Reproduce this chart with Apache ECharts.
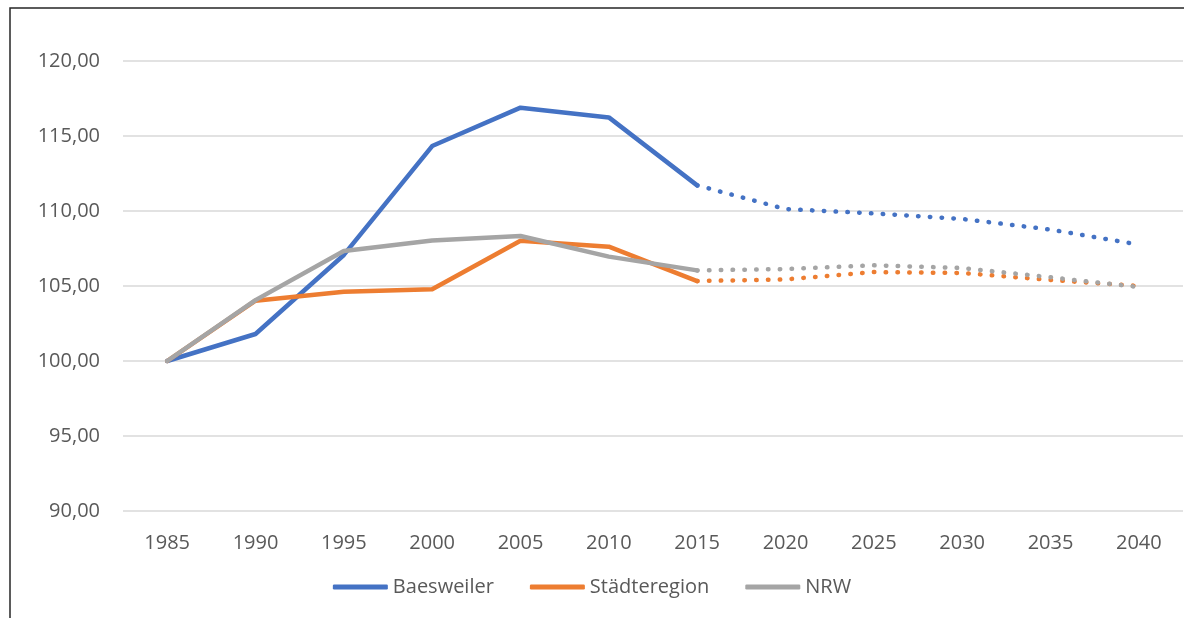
<!DOCTYPE html>
<html>
<head>
<meta charset="utf-8">
<script src="https://cdn.jsdelivr.net/npm/echarts@6/dist/echarts.min.js"></script>
<style>
  html, body { margin: 0; padding: 0; background: #fff; }
  #chart { width: 1184px; height: 618px; }
</style>
</head>
<body>
<div id="chart"></div>
<script>
const years = ['1985', '1990', '1995', '2000', '2005', '2010', '2015', '2020', '2025', '2030', '2035', '2040']
// Ist-Werte bis 2015, danach Prognose (gepunktet)
const baesweiler = [100.0, 101.8, 107.07, 114.33, 116.89, 116.24, 111.71, 110.13, 109.84, 109.47, 108.76, 107.76]
const staedteregion = [100.0, 104.02, 104.62, 104.78, 108.02, 107.62, 105.33, 105.44, 105.93, 105.87, 105.4, 105.0]
const nrw = [100.0, 104.06, 107.33, 108.04, 108.33, 106.96, 106.04, 106.13, 106.38, 106.2, 105.58, 104.93]
const seriesNames = ['Baesweiler', 'Städteregion', 'NRW']
const colors = ['#4472C4', '#ED7D31', '#A5A5A5']
const splitIndex = 6 // 2015

const font = '"Open Sans", sans-serif'

function part(values, solid) {
  return values.map((v, i) => (solid ? (i <= splitIndex ? v : null) : (i >= splitIndex ? v : null)))
}

const series = []
;[baesweiler, staedteregion, nrw].forEach((vals, k) => {
  series.push({
    name: seriesNames[k],
    type: 'line',
    data: part(vals, true),
    showSymbol: false,
    symbol: 'none',
    color: colors[k],
    lineStyle: { width: 4.5, color: colors[k], cap: 'round', join: 'round' },
    z: 3 + k
  })
  series.push({
    name: seriesNames[k] + ' Prognose',
    type: 'line',
    data: part(vals, false),
    showSymbol: false,
    symbol: 'none',
    color: colors[k],
    lineStyle: { width: 4.5, color: colors[k], type: [0.5, 11.3], cap: 'round' },
    z: 3 + k
  })
})

const chart = echarts.init(document.getElementById('chart'))
chart.setOption({
  animation: false,
  backgroundColor: '#fff',
  grid: { left: 123, right: 1, top: 61, bottom: 107 },
  graphic: [{
    type: 'rect',
    shape: { x: 10, y: 8, width: 1200, height: 700 },
    style: { fill: 'none', stroke: '#262626', lineWidth: 1.5 },
    silent: true
  }],
  legend: {
    data: seriesNames,
    top: 572,
    left: 'center',
    itemWidth: 55,
    itemHeight: 5,
    itemGap: 36,
    icon: 'roundRect',
    textStyle: { fontFamily: font, fontSize: 20, color: '#595959', padding: [0, 0, 0, 0] }
  },
  xAxis: {
    type: 'category',
    data: years,
    boundaryGap: true,
    axisLine: { show: false },
    axisTick: { show: false },
    axisLabel: { fontFamily: font, fontSize: 20, color: '#595959', margin: 22 }
  },
  yAxis: {
    type: 'value',
    min: 90,
    max: 120,
    interval: 5,
    axisLine: { show: false },
    axisTick: { show: false },
    splitLine: { lineStyle: { color: '#d9d9d9', width: 1.5 } },
    axisLabel: {
      fontFamily: font, fontSize: 20, color: '#595959', margin: 23,
      formatter: v => v.toFixed(2).replace('.', ',')
    }
  },
  series: series
})
</script>
</body>
</html>
